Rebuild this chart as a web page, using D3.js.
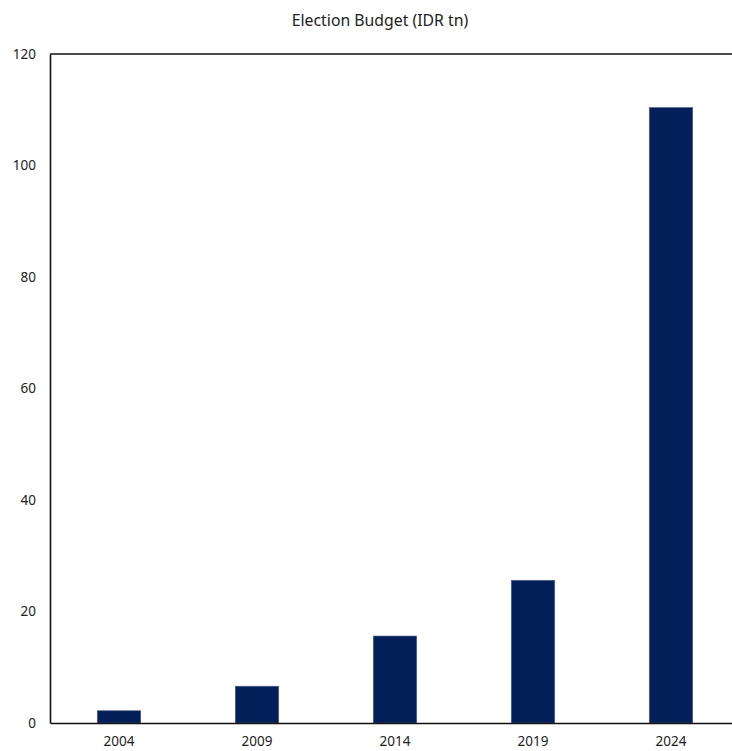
<!DOCTYPE html>
<html>
<head>
<meta charset="utf-8">
<script src="https://cdn.jsdelivr.net/npm/d3@7"></script>
<style>
  html, body { margin: 0; padding: 0; background: #fff; }
  svg { display: block; font-family: "Segoe UI", "Noto Sans", "Open Sans", sans-serif; }
</style>
</head>
<body>
<svg id="chart" width="732" height="751"></svg>
<script>
// Election budget by election year, IDR trillion
const years = ["2004", "2009", "2014", "2019", "2024"];
const budget = [2.2, 6.6, 15.6, 25.6, 110.4];
const yTicks = [0, 20, 40, 60, 80, 100, 120];
const chartTitle = "Election Budget (IDR tn)";

const svg = d3.select("#chart");
const plot = { left: 50, right: 740, top: 54, bottom: 723 };
const fontStack = "\"Segoe UI\", \"Noto Sans\", \"Open Sans\", sans-serif";

const x = d3.scaleBand()
  .domain(years)
  .range([plot.left, plot.right])
  .paddingInner(0.685)
  .paddingOuter(0.3425);

const y = d3.scaleLinear().domain([0, 120]).range([plot.bottom, plot.top]);

// title
svg.append("text")
  .attr("x", 380).attr("y", 26)
  .attr("text-anchor", "middle")
  .attr("font-size", 15.8)
  .attr("fill", "#222")
  .text(chartTitle);

// bars
svg.append("g").selectAll("rect")
  .data(years.map((yr, i) => ({ yr, v: budget[i] })))
  .join("rect")
  .attr("x", d => x(d.yr))
  .attr("width", x.bandwidth())
  .attr("y", d => y(d.v))
  .attr("height", d => y(0) - y(d.v))
  .attr("fill", "#021f5a")
  .attr("stroke", "#56648a")
  .attr("stroke-width", 0.6);

// y axis
const yAxis = svg.append("g")
  .attr("transform", `translate(${plot.left},0)`)
  .call(d3.axisLeft(y).tickValues(yTicks).tickSize(0).tickPadding(14));
yAxis.select(".domain").attr("stroke", "#111").attr("stroke-width", 1.6);
yAxis.selectAll("text").attr("font-size", 13.5).attr("fill", "#222")
  .style("font-family", fontStack);

// x axis
const xAxis = svg.append("g")
  .attr("transform", `translate(0,${plot.bottom})`)
  .call(d3.axisBottom(x).tickSize(0).tickPadding(13));
xAxis.select(".domain").attr("stroke", "#111").attr("stroke-width", 1.6);
xAxis.selectAll("text").attr("font-size", 13.5).attr("fill", "#222")
  .style("font-family", fontStack);

// top frame line
svg.append("line")
  .attr("x1", plot.left).attr("x2", plot.right)
  .attr("y1", plot.top).attr("y2", plot.top)
  .attr("stroke", "#111").attr("stroke-width", 1.6);
</script>
</body>
</html>
